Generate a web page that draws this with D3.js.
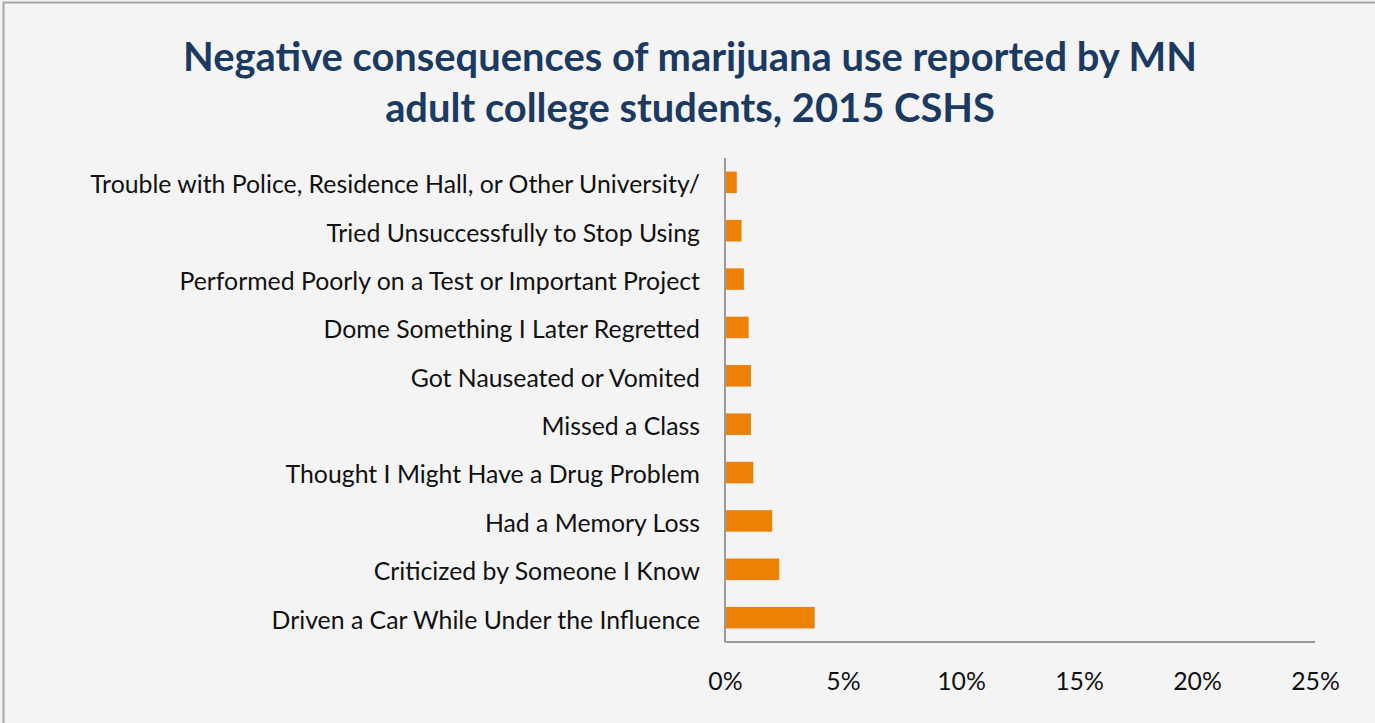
<!DOCTYPE html>
<html>
<head>
<meta charset="utf-8">
<script src="https://cdn.jsdelivr.net/npm/d3@7"></script>
<style>
  html, body { margin: 0; padding: 0; background: #f4f4f4; overflow: hidden; }
  svg { display: block; }
</style>
</head>
<body>
<svg id="chart" width="1375" height="723"></svg>
<script>
// Share of respondents reporting each consequence (percent), top to bottom
const categories = [
  "Trouble with Police, Residence Hall, or Other University/",
  "Tried Unsuccessfully to Stop Using",
  "Performed Poorly on a Test or Important Project",
  "Dome Something I Later Regretted",
  "Got Nauseated or Vomited",
  "Missed a Class",
  "Thought I Might Have a Drug Problem",
  "Had a Memory Loss",
  "Criticized by Someone I Know",
  "Driven a Car While Under the Influence"
];
const values = [0.5, 0.7, 0.8, 1.0, 1.1, 1.1, 1.2, 2.0, 2.3, 3.8];
const tickValues = [0, 5, 10, 15, 20, 25];
const titleLines = [
  "Negative consequences of marijuana use reported by MN",
  "adult college students, 2015 CSHS"
];

const svg = d3.select("#chart");
const W = 1375, H = 723;
const FONT = "Lato, 'Open Sans', 'Noto Sans', sans-serif";

// panel background with a thin frame on its top and left
svg.append("rect").attr("x", 0).attr("y", 0).attr("width", W).attr("height", H).attr("fill", "#f4f4f4");
svg.append("path")
  .attr("d", `M3.5,${H} V2.5 H${W}`)
  .attr("fill", "none").attr("stroke", "#a6a6a6").attr("stroke-width", 2);

const plot = { left: 725, right: 1315, top: 158, bottom: 642 };

const x = d3.scaleLinear().domain([0, 25]).range([plot.left, plot.right]);
const y = d3.scaleBand().domain(categories).range([plot.top, plot.bottom]).paddingInner(0.555).paddingOuter(0.28);

// helper: size text so a reference string spans a given width
function fitSize(str, weight, targetWidth) {
  const t = svg.append("text").attr("font-family", FONT).attr("font-weight", weight)
    .attr("font-size", 20).text(str);
  const w = t.node().getComputedTextLength();
  t.remove();
  return 20 * targetWidth / w;
}

// title
const titleSize = fitSize(titleLines[0], 700, 1014);
svg.append("g").selectAll("text").data(titleLines).join("text")
  .attr("x", 690)
  .attr("y", (d, i) => 71 + i * 51)
  .attr("text-anchor", "middle")
  .attr("font-family", FONT).attr("font-weight", 700)
  .attr("font-size", titleSize)
  .attr("fill", "#1b3a61")
  .text(d => d);

// bars
svg.append("g").selectAll("rect").data(values).join("rect")
  .attr("x", x(0))
  .attr("y", (d, i) => y(categories[i]))
  .attr("width", d => x(d) - x(0))
  .attr("height", y.bandwidth())
  .attr("fill", "#ed8105");

const labelSize = fitSize(categories[0], 400, 610);

// category axis
const yAxis = svg.append("g")
  .attr("transform", `translate(${plot.left},0)`)
  .call(d3.axisLeft(y).tickSize(0).tickPadding(25));
yAxis.select(".domain").attr("stroke", "#9a9a9a").attr("stroke-width", 2)
  .attr("d", `M0,${plot.top}V${plot.bottom}`);
yAxis.selectAll("text")
  .attr("font-family", FONT).attr("font-size", labelSize)
  .attr("fill", "#111").attr("dy", "0.44em");

// value axis
const xAxis = svg.append("g")
  .attr("transform", `translate(0,${plot.bottom})`)
  .call(d3.axisBottom(x).tickValues(tickValues).tickSize(0).tickPadding(30).tickFormat(d => d + "%"));
xAxis.select(".domain").attr("stroke", "#9a9a9a").attr("stroke-width", 2)
  .attr("d", `M${plot.left},0H${plot.right}`);
xAxis.selectAll("text")
  .attr("font-family", FONT).attr("font-size", labelSize)
  .attr("fill", "#111").attr("dy", "0.71em");
</script>
</body>
</html>
